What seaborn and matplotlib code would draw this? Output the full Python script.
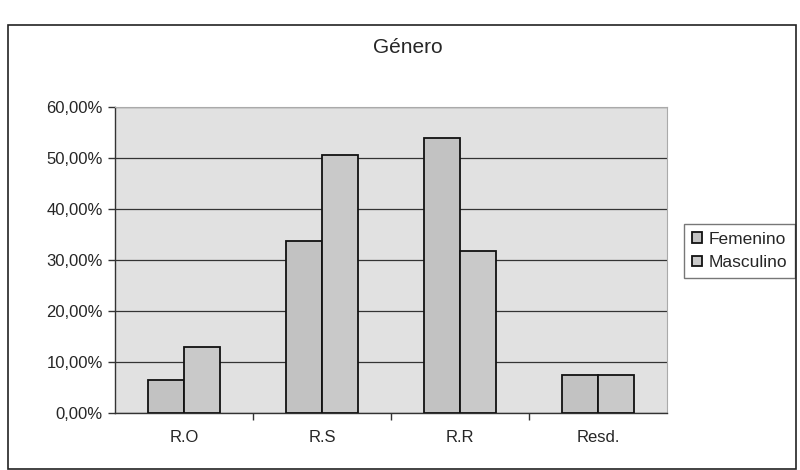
import pandas as pd
import matplotlib.pyplot as plt
import seaborn as sns
from matplotlib.patches import Rectangle
from matplotlib.ticker import FuncFormatter, FixedLocator

categorias = ["R.O", "R.S", "R.R", "Resd."]
femenino = [6.5, 33.8, 54.0, 7.5]
masculino = [12.9, 50.7, 31.8, 7.5]

df = pd.DataFrame({
    "categoria": categorias * 2,
    "valor": femenino + masculino,
    "genero": ["Femenino"] * 4 + ["Masculino"] * 4,
})

sns.set_theme(style="white")
plt.rcParams["font.family"] = ["Liberation Sans", "DejaVu Sans"]

fig = plt.figure(figsize=(8, 4.7), dpi=100)
fig.patch.set_facecolor("white")
ax = fig.add_axes([0.144, 0.121, 0.69, 0.651])
ax.set_facecolor("#e1e1e1")

sns.barplot(
    data=df, x="categoria", y="valor", hue="genero", ax=ax,
    palette={"Femenino": "#c2c2c2", "Masculino": "#c9c9c9"},
    width=0.52, gap=0, edgecolor="#111111", linewidth=1.3,
    errorbar=None, zorder=3,
)

ax.set_ylim(0, 60)
ax.set_yticks(range(0, 61, 10))
ax.yaxis.set_major_formatter(FuncFormatter(lambda v, p: f"{v:.2f}%".replace(".", ",")))
ax.grid(axis="y", color="#333333", linewidth=0.9, zorder=1)
ax.set_axisbelow(True)
ax.set_xlim(-0.5, 3.5)
ax.xaxis.set_minor_locator(FixedLocator([0.5, 1.5, 2.5]))
ax.tick_params(axis="x", which="major", length=0, labelsize=12, pad=12)
ax.tick_params(axis="x", which="minor", length=5, width=1, color="#333333", direction="out", bottom=True)
ax.tick_params(axis="y", length=5, width=1, color="#333333", direction="out", left=True, labelsize=12, pad=4)
ax.set_xlabel("")
ax.set_ylabel("")

for side in ["left", "bottom"]:
    ax.spines[side].set_color("#333333")
    ax.spines[side].set_linewidth(1)
for side in ["top", "right"]:
    ax.spines[side].set_color("#aaaaaa")
    ax.spines[side].set_linewidth(0.8)

handles, labels = ax.get_legend_handles_labels()
ax.legend(
    handles, labels, loc="center left", bbox_to_anchor=(1.015, 0.53),
    frameon=True, fancybox=False, edgecolor="#555555", fontsize=12.5,
    handlelength=0.55, handleheight=0.55, handletextpad=0.4,
    borderpad=0.45, labelspacing=0.5,
)

fig.text(0.51, 0.898, "Género", ha="center", va="center", fontsize=15)

fig.patches.append(Rectangle((0.01, 0.003), 0.985, 0.944, transform=fig.transFigure,
                             fill=False, edgecolor="#222222", linewidth=1.2))

fig.savefig("out.png", dpi=100)
